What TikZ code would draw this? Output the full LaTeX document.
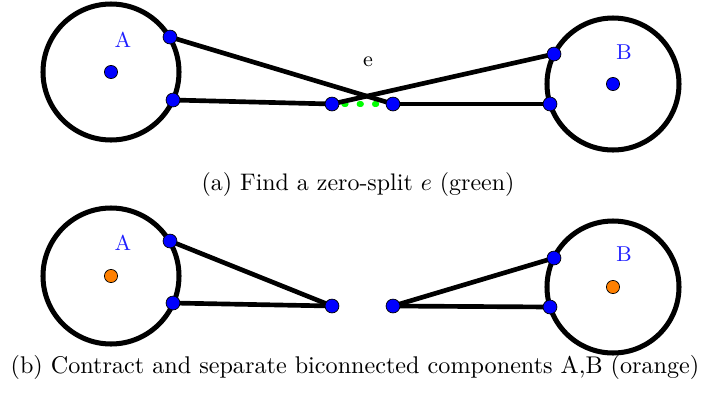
\documentclass[tikz,border=0pt]{standalone}
\usetikzlibrary{calc}
\definecolor{dotblue}{RGB}{0,0,255}
\definecolor{dotorange}{RGB}{255,128,0}
\definecolor{labblue}{RGB}{30,30,255}
\definecolor{zgreen}{RGB}{0,255,0}
\begin{document}
\begin{tikzpicture}[x=0.418pt,y=-0.418pt,
  bigcirc/.style={draw=black,line width=2.1pt},
  edge/.style={draw=black,line width=1.95pt},
  vdot/.style={circle,fill=dotblue,draw=black,line width=0.3pt,inner sep=0pt,minimum size=5.8pt},
  cdot/.style={circle,fill=dotblue,draw=black,line width=0.3pt,inner sep=0pt,minimum size=5.5pt},
  odot/.style={circle,fill=dotorange,draw=black,line width=0.3pt,inner sep=0pt,minimum size=5.5pt},
  lab/.style={text=labblue,font=\small},
  zsplit/.style={draw=zgreen,line width=2.2pt,line cap=round,dash pattern=on 0.8pt off 5.6pt}]
\useasboundingbox (0,0) rectangle (711,402);
% ---- (a) ----
\draw[bigcirc] (111,72) circle[radius=68];
\draw[bigcirc] (613,84) circle[radius=66];
\coordinate (a1) at (170,37);
\coordinate (a2) at (173,100);
\coordinate (b1) at (554,54);
\coordinate (b2) at (550,104);
\coordinate (m1) at (332,104);
\coordinate (m2) at (393,104);
\draw[zsplit] ($(m1)+(12,0)$) -- (m2);
\draw[edge] (a1) -- (m2);
\draw[edge] (a2) -- (m1);
\draw[edge] (b1) -- (m1);
\draw[edge] (b2) -- (m2);
\node[vdot] (na1) at (a1) {};
\node[vdot] (na2) at (a2) {};
\node[vdot] (nb1) at (b1) {};
\node[vdot] (nb2) at (b2) {};
\node[vdot] (nm1) at (m1) {};
\node[vdot] (nm2) at (m2) {};
\node[cdot] (ca) at (111,72) {};
\node[cdot] (cb) at (613,84) {};
\node[lab] (la) at (123,40) {A};
\node[lab] (lb) at (624,52) {B};
\node[font=\small] (le) at (368,62) {e};
\node (capa) at (358,185) {(a) Find a zero-split $e$ (green)};
% ---- (b) ----
\draw[bigcirc] (111,276) circle[radius=68];
\draw[bigcirc] (613,287) circle[radius=66];
\coordinate (p1) at (170,241);
\coordinate (p2) at (173,303);
\coordinate (q1) at (554,258);
\coordinate (q2) at (550,307);
\coordinate (s1) at (332,306);
\coordinate (s2) at (393,306);
\draw[edge] (p1) -- (s1);
\draw[edge] (p2) -- (s1);
\draw[edge] (q1) -- (s2);
\draw[edge] (q2) -- (s2);
\node[vdot] (np1) at (p1) {};
\node[vdot] (np2) at (p2) {};
\node[vdot] (nq1) at (q1) {};
\node[vdot] (nq2) at (q2) {};
\node[vdot] (ns1) at (s1) {};
\node[vdot] (ns2) at (s2) {};
\node[odot] (oa) at (111,276) {};
\node[odot] (ob) at (613,287) {};
\node[lab] (la2) at (123,243) {A};
\node[lab] (lb2) at (624,254) {B};
\node[font=\fontsize{10.1}{12}\selectfont] (capb) at (355,367) {(b) Contract and separate biconnected components A,B (orange)};
\end{tikzpicture}
\end{document}
